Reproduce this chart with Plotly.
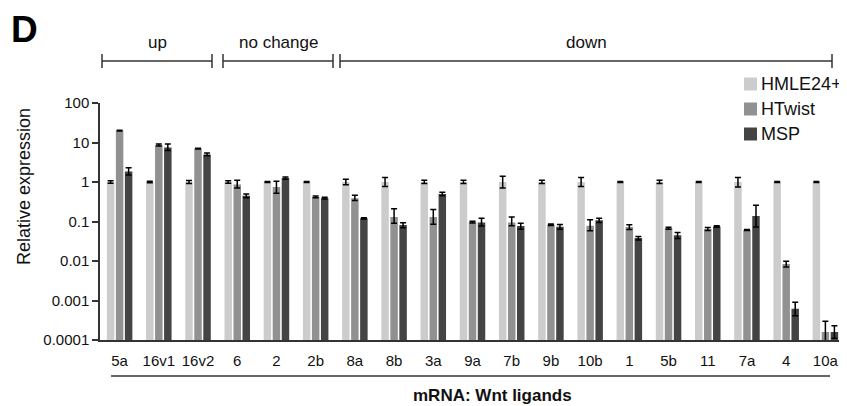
import plotly.graph_objects as go

categories = ["5a", "16v1", "16v2", "6", "2", "2b", "8a", "8b", "3a", "9a",
              "7b", "9b", "10b", "1", "5b", "11", "7a", "4", "10a"]

hmle = [1.0] * 19
hmle_up = [0.07, 0.04, 0.09, 0.07, 0.03, 0.03, 0.17, 0.30, 0.10, 0.10,
           0.40, 0.10, 0.30, 0.03, 0.10, 0.03, 0.30, 0.03, 0.03]
hmle_dn = [0.07, 0.04, 0.09, 0.07, 0.03, 0.03, 0.15, 0.23, 0.09, 0.09,
           0.30, 0.09, 0.23, 0.03, 0.09, 0.03, 0.25, 0.03, 0.03]

htwist = [20.0, 8.6, 7.0, 0.86, 0.75, 0.42, 0.39, 0.13, 0.13, 0.097,
          0.094, 0.083, 0.078, 0.073, 0.068, 0.065, 0.061, 0.0084, 0.00016]
htwist_up = [0.5, 0.5, 0.2, 0.24, 0.29, 0.02, 0.07, 0.08, 0.07, 0.005,
             0.036, 0.004, 0.032, 0.01, 0.004, 0.006, 0.002, 0.0015, 0.00014]
htwist_dn = [0.5, 0.5, 0.2, 0.16, 0.23, 0.02, 0.05, 0.04, 0.045, 0.005,
             0.016, 0.004, 0.02, 0.01, 0.004, 0.006, 0.002, 0.0013, 0.00016]

msp = [1.85, 7.5, 5.0, 0.45, 1.26, 0.39, 0.12, 0.081, 0.50, 0.095,
       0.077, 0.074, 0.107, 0.038, 0.045, 0.075, 0.138, 0.00062, 0.00016]
msp_up = [0.45, 1.7, 0.4, 0.05, 0.08, 0.02, 0.004, 0.012, 0.05, 0.025,
          0.013, 0.01, 0.013, 0.004, 0.008, 0.003, 0.12, 0.00028, 0.00007]
msp_dn = [0.35, 1.2, 0.4, 0.05, 0.08, 0.02, 0.004, 0.012, 0.05, 0.018,
          0.013, 0.01, 0.013, 0.004, 0.008, 0.003, 0.065, 0.00021, 0.00005]

series_names = ["HMLE24+", "HTwist", "MSP"]
series_colors = ["#cccccc", "#919191", "#444444"]

ytick_vals = [1e-4, 1e-3, 1e-2, 1e-1, 1, 10, 100]
ytick_text = ["0.0001", "0.001", "0.01", "0.1", "1", "10", "100"]

groups = [("up", "5a", "16v2"), ("no change", "6", "2b"), ("down", "8a", "10a")]

FONT = "Liberation Sans, Arial, sans-serif"
# the page body has an 8px default margin, so the figure is drawn 8px smaller
OFF = 8
W, H = 847 - OFF, 406 - OFF
PLOT_L, PLOT_R, PLOT_T, PLOT_B = 100, 845, 103, 340   # target page pixels
L, T = PLOT_L - OFF, PLOT_T - OFF
R = W - (PLOT_R - OFF)
B = H - (PLOT_B - OFF)
PW, PH = PLOT_R - PLOT_L, PLOT_B - PLOT_T


def px(x):
    return (x - PLOT_L) / PW


def py(y):
    return (PLOT_B - y) / PH


fig = go.Figure()
for name, col, vals, up, dn in zip(series_names, series_colors,
                                   [hmle, htwist, msp],
                                   [hmle_up, htwist_up, msp_up],
                                   [hmle_dn, htwist_dn, msp_dn]):
    fig.add_trace(go.Bar(
        x=categories, y=vals, name=name, showlegend=False,
        marker=dict(color=col, line=dict(width=0)),
        error_y=dict(type="data", symmetric=False, array=up, arrayminus=dn,
                     color="black", thickness=1.5, width=3),
    ))

shapes = []
annotations = []
# group brackets
bracket_px = {"up": (102, 212), "no change": (223, 333), "down": (340, 832)}
for label, c0, c1 in groups:
    x0, x1 = bracket_px[label]
    yb = 61
    shapes.append(dict(type="line", xref="paper", yref="paper",
                       x0=px(x0), x1=px(x1), y0=py(yb), y1=py(yb),
                       line=dict(color="#333333", width=1.5)))
    for xx in (x0, x1):
        shapes.append(dict(type="line", xref="paper", yref="paper",
                           x0=px(xx), x1=px(xx), y0=py(54), y1=py(68),
                           line=dict(color="#333333", width=1.5)))
    annotations.append(dict(text=label, xref="paper", yref="paper",
                            x=px((x0 + x1) / 2), y=py(43), showarrow=False,
                            xanchor="center", yanchor="middle",
                            font=dict(family=FONT, size=17, color="#111111")))

# manual legend
for i, (name, col) in enumerate(zip(series_names, series_colors)):
    cy = 84 + 25 * i
    shapes.append(dict(type="rect", xref="paper", yref="paper",
                       x0=px(744), x1=px(757), y0=py(cy - 6.5), y1=py(cy + 6.5),
                       fillcolor=col, line=dict(width=0)))
    annotations.append(dict(text=name, xref="paper", yref="paper",
                            x=px(759), y=py(cy), showarrow=False,
                            xanchor="left", yanchor="middle",
                            font=dict(family=FONT, size=18, color="#111111")))

# line under category labels
shapes.append(dict(type="line", xref="paper", yref="paper",
                   x0=px(111), x1=px(830), y0=py(376), y1=py(376),
                   line=dict(color="#333333", width=1.5)))

annotations.append(dict(text="<b>mRNA: Wnt ligands</b>", xref="paper", yref="paper",
                        x=px(493), y=py(395), showarrow=False,
                        xanchor="center", yanchor="middle",
                        font=dict(family=FONT, size=17, color="#111111")))
annotations.append(dict(text="<b>D</b>", xref="paper", yref="paper",
                        x=px(9), y=py(29), showarrow=False,
                        xanchor="left", yanchor="middle",
                        font=dict(family=FONT, size=37, color="#000000")))
annotations.append(dict(text="Relative expression", xref="paper", yref="paper",
                        x=px(24), y=py(187), showarrow=False, textangle=-90,
                        xanchor="center", yanchor="middle",
                        font=dict(family=FONT, size=18, color="#111111")))

fig.update_layout(
    width=W, height=H,
    margin=dict(l=L, r=R, t=T, b=B, pad=0, autoexpand=False),
    paper_bgcolor="white", plot_bgcolor="white",
    barmode="group", bargap=0.31, bargroupgap=0.17,
    font=dict(family=FONT, size=15, color="#111111"),
    showlegend=False,
    shapes=shapes, annotations=annotations,
    xaxis=dict(type="category", showline=True, linecolor="#333333", linewidth=1.5,
               ticks="", showgrid=False, zeroline=False, automargin=False,
               tickfont=dict(family=FONT, size=15, color="#111111"),
               ticklabelstandoff=6),
    yaxis=dict(type="log", range=[-4, 2], tickvals=ytick_vals, ticktext=ytick_text,
               showline=True, linecolor="#333333", linewidth=1.5, automargin=False,
               ticks="outside", ticklen=6, tickwidth=1.5, tickcolor="#333333",
               showgrid=False, zeroline=False,
               tickfont=dict(family=FONT, size=15, color="#111111")),
)

fig.write_html("out.html")
